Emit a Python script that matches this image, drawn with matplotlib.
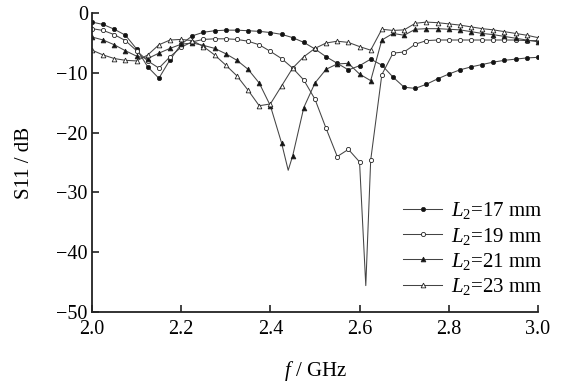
import numpy as np
import matplotlib
matplotlib.use("Agg")
import matplotlib.pyplot as plt

plt.rcParams['font.family'] = ['Liberation Serif', 'DejaVu Serif']
plt.rcParams['mathtext.fontset'] = 'custom'
plt.rcParams['mathtext.rm'] = 'Liberation Serif'
plt.rcParams['mathtext.it'] = 'Liberation Serif:italic'

# frequency grid of the markers (GHz)
freq = np.round(np.arange(2.0, 3.0001, 0.025), 3)

s11_17 = [-1.5, -1.9, -2.7, -3.7, -6.0, -9.0, -10.9, -7.8, -5.2, -3.8,
          -3.2, -2.95, -2.85, -2.85, -2.95, -3.05, -3.25, -3.55, -4.1, -4.9,
          -6.0, -7.3, -8.4, -9.5, -8.8, -7.7, -8.7, -10.7, -12.4, -12.6,
          -11.9, -11.0, -10.2, -9.5, -9.0, -8.6, -8.2, -7.9, -7.7, -7.5, -7.4]
s11_19 = [-2.6, -2.9, -3.6, -4.6, -6.3, -8.0, -9.2, -7.3, -5.7, -4.8,
          -4.4, -4.3, -4.3, -4.4, -4.7, -5.3, -6.4, -7.6, -9.2, -11.2,
          -14.4, -19.3, -24.0, -22.8, -24.9, -24.6, -10.3, -6.7, -6.5, -5.2,
          -4.6, -4.5, -4.5, -4.5, -4.5, -4.5, -4.5, -4.5, -4.5, -4.6, -4.6]
s11_21 = [-4.0, -4.5, -5.3, -6.3, -7.2, -7.6, -6.7, -5.9, -5.2, -5.0,
          -5.4, -5.9, -6.8, -7.9, -9.4, -11.7, -15.5, -21.7, -23.9, -15.8,
          -11.7, -9.4, -8.5, -8.4, -10.2, -11.3, -4.5, -3.4, -3.7, -2.7,
          -2.6, -2.6, -2.7, -2.8, -3.1, -3.4, -3.6, -3.9, -4.2, -4.5, -4.8]
s11_23 = [-6.2, -7.0, -7.6, -7.9, -8.0, -7.0, -5.3, -4.5, -4.4, -4.6,
          -5.6, -7.0, -8.7, -10.5, -12.9, -15.5, -15.2, -12.2, -9.2, -7.3,
          -5.9, -5.0, -4.7, -4.9, -5.6, -6.2, -2.7, -2.9, -2.8, -1.7,
          -1.5, -1.6, -1.8, -2.0, -2.3, -2.6, -2.8, -3.1, -3.4, -3.7, -4.1]

# sharp resonance minima between markers (no marker drawn there)
dip_19 = ([2.614], [-45.6])
dip_21 = ([2.44], [-26.3])

labels = [r'$L_2$=17 mm', r'$L_2$=19 mm', r'$L_2$=21 mm', r'$L_2$=23 mm']

series = [
    (s11_17, ([], []), 'o', '#111111'),
    (s11_19, dip_19, 'o', 'white'),
    (s11_21, dip_21, '^', '#111111'),
    (s11_23, ([], []), '^', 'white'),
]

fig = plt.figure(figsize=(5.68, 3.86), dpi=100)
ax = fig.add_axes([0.162, 0.192, 0.785, 0.774])

for (vals, dip, mk, fc), lab in zip(series, labels):
    x = np.concatenate([freq, dip[0]])
    y = np.concatenate([vals, dip[1]])
    order = np.argsort(x, kind='stable')
    x, y = x[order], y[order]
    marked = [i for i, xv in enumerate(x) if xv not in dip[0]]
    ax.plot(x, y, color='#444444', lw=0.75, marker=mk, markevery=marked,
            ms=3.0 if mk == 'o' else 3.4, mfc=fc, mec='#222222', mew=0.6,
            label=lab)

ax.set_xlim(2.0, 3.0)
ax.set_ylim(-50, 0)
ax.set_xticks([2.0, 2.2, 2.4, 2.6, 2.8, 3.0])
ax.set_yticks([0, -10, -20, -30, -40, -50])
ax.set_xticklabels(['2.0', '2.2', '2.4', '2.6', '2.8', '3.0'])
ax.set_yticklabels(['0', '\u221210', '\u221220', '\u221230', '\u221240', '\u221250'])

for side in ['top', 'right']:
    ax.spines[side].set_visible(False)
for side in ['left', 'bottom']:
    ax.spines[side].set_linewidth(1.3)
    ax.spines[side].set_color('#222222')
ax.tick_params(direction='in', length=5, width=1.2, labelsize=14.5,
               color='#222222')
ax.tick_params(axis='x', pad=6)
ax.tick_params(axis='y', pad=3)

ax.set_xlabel(r'$f$ / GHz', fontsize=15, labelpad=14)
ax.set_ylabel('S11 / dB', fontsize=15, labelpad=16)

ax.legend(loc='lower right', bbox_to_anchor=(1.01, 0.05), frameon=False,
          fontsize=15, handlelength=1.9, handletextpad=0.4,
          labelspacing=0.2, borderpad=0, borderaxespad=0)

fig.savefig('out.png', dpi=100)
